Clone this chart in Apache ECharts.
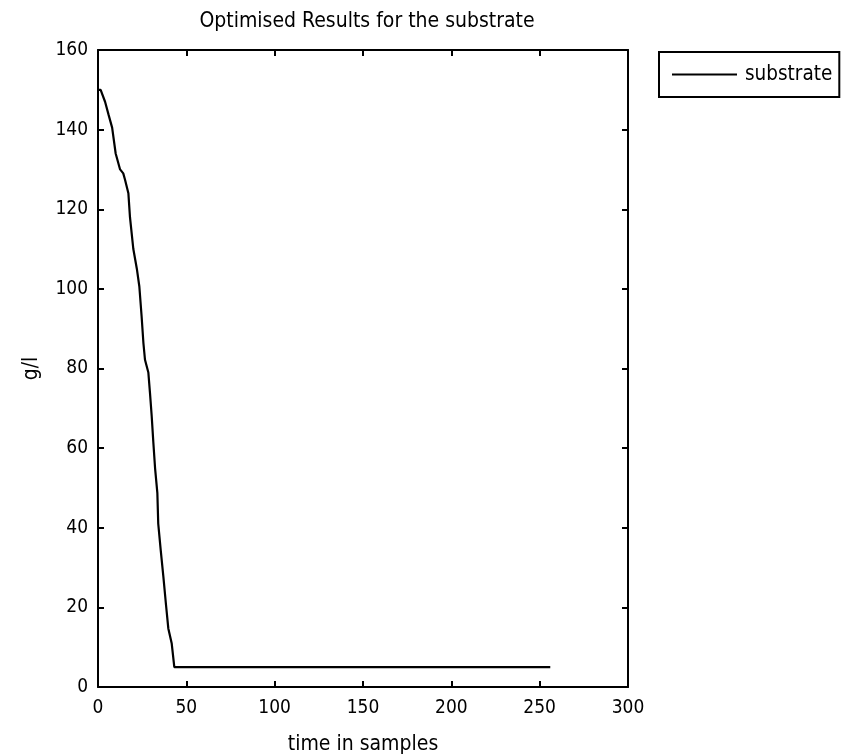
<!DOCTYPE html>
<html>
<head>
<meta charset="utf-8">
<script src="https://cdn.jsdelivr.net/npm/echarts@6/dist/echarts.min.js"></script>
<style>
html,body{margin:0;padding:0;background:#fff;}
#chart{width:850px;height:756px;}
</style>
</head>
<body>
<div id="chart"></div>
<script>
const titleText = 'Optimised Results for the substrate';
const xAxisName = 'time in samples';
const yAxisName = 'g/l';
const seriesName = 'substrate';
const xTicks = [0, 50, 100, 150, 200, 250, 300];
const yTicks = [0, 20, 40, 60, 80, 100, 120, 140, 160];
const sampleX = [0, 1.5, 4, 6, 8, 10, 12.5, 14.3, 15.3, 17.2, 18.1, 20, 22, 23.4, 24.7, 25.7, 26.6, 28.5, 29.4, 30.4, 31.3, 32.3, 33.6, 34.1, 35.5, 37, 38.5, 39.8, 41.7, 43.2, 256];
const substrate = [150, 150, 147, 143.7, 140.5, 134, 130, 129, 127.4, 124, 118, 110, 105, 100.6, 93, 86.4, 82.2, 79, 74, 68, 61.6, 55, 48.7, 41, 34.4, 27.7, 20.6, 14.7, 11, 5, 5];

const FONT = "'Liberation Sans Narrow', 'DejaVu Sans Condensed', 'Liberation Sans', sans-serif";
const chart = echarts.init(document.getElementById('chart'), null, {renderer: 'canvas'});

const axisLine = {show: true, onZero: false, lineStyle: {color: '#000', width: 2}};
const axisTick = {show: true, inside: true, length: 6, lineStyle: {color: '#000', width: 2}};
const label = {color: '#000', fontFamily: FONT, fontSize: 19};

chart.setOption({
  backgroundColor: '#fff',
  animation: false,
  title: {
    text: titleText, left: 362, top: 6, textAlign: 'center',
    textStyle: {color: '#000', fontFamily: FONT, fontSize: 21, fontWeight: 'normal'}
  },
  legend: {
    left: 659, top: 52, orient: 'vertical',
    icon: 'rect', itemWidth: 65, itemHeight: 2,
    padding: [11, 7, 11, 13],
    borderColor: '#000', borderWidth: 2,
    textStyle: {color: '#000', fontFamily: FONT, fontSize: 20.5, lineHeight: 23, padding: [0, 0, 0, 3]},
    data: [seriesName]
  },
  grid: {left: 98, right: 222, top: 50, bottom: 69, containLabel: false, outerBoundsMode: 'none'},
  xAxis: [{
    type: 'value', min: xTicks[0], max: xTicks[xTicks.length - 1], interval: xTicks[1] - xTicks[0],
    position: 'bottom',
    name: xAxisName, nameLocation: 'middle', nameGap: 47,
    nameTextStyle: {color: '#000', fontFamily: FONT, fontSize: 21},
    axisLine, axisTick, splitLine: {show: false},
    axisLabel: Object.assign({margin: 12}, label)
  }, {
    type: 'value', min: xTicks[0], max: xTicks[xTicks.length - 1], interval: xTicks[1] - xTicks[0],
    position: 'top',
    axisLine, axisTick, splitLine: {show: false}, axisLabel: {show: false}
  }],
  yAxis: [{
    type: 'value', min: yTicks[0], max: yTicks[yTicks.length - 1], interval: yTicks[1] - yTicks[0],
    position: 'left',
    name: yAxisName, nameLocation: 'middle', nameGap: 56,
    nameTextStyle: {color: '#000', fontFamily: FONT, fontSize: 21},
    axisLine, axisTick, splitLine: {show: false},
    axisLabel: Object.assign({margin: 10}, label)
  }, {
    type: 'value', min: yTicks[0], max: yTicks[yTicks.length - 1], interval: yTicks[1] - yTicks[0],
    position: 'right',
    axisLine, axisTick, splitLine: {show: false}, axisLabel: {show: false}
  }],
  series: [{
    name: seriesName, type: 'line',
    xAxisIndex: 0, yAxisIndex: 0,
    data: sampleX.map((x, i) => [x, substrate[i]]),
    showSymbol: false, symbol: 'none',
    color: '#000',
    lineStyle: {color: '#000', width: 2.2},
    itemStyle: {color: '#000'}
  }]
});
</script>
</body>
</html>
